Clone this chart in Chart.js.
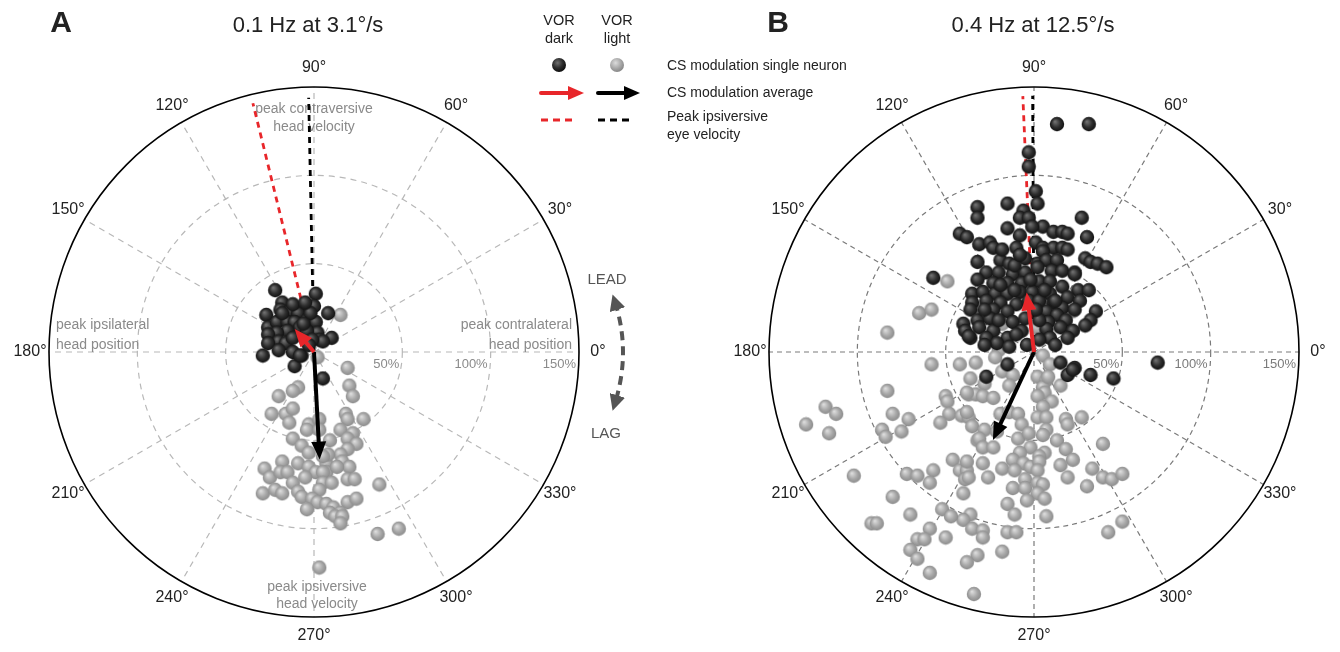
<!DOCTYPE html>
<html>
<head>
<meta charset="utf-8">
<script src="https://cdn.jsdelivr.net/npm/chart.js@4.4.1/dist/chart.umd.min.js"></script>
<style>
  body { margin: 0; background: #fff; font-family: "Liberation Sans", Arial, sans-serif; }
  #wrap { position: relative; width: 1340px; height: 652px; overflow: hidden; }
  canvas { position: absolute; top: 0; }
  .t { position: absolute; white-space: nowrap; color: #222; transform: translate(-50%, -50%); line-height: 1; }
  .l { position: absolute; white-space: nowrap; color: #222; transform: translateY(-50%); line-height: 1; font-size: 14px; }
  .letter { font-weight: bold; font-size: 30px; }
  .title { font-size: 22px; }
  .vor { font-size: 14.5px; }
  .lead { font-size: 15px; color: #555; }
  svg { position: absolute; left: 0; top: 0; }
</style>
</head>
<body>
<div id="wrap">
  <canvas id="chartA" width="670" height="652" style="left:0"></canvas>
  <canvas id="chartB" width="670" height="652" style="left:670px"></canvas>

  <div class="t letter" style="left:61px;top:22px">A</div>
  <div class="t title" style="left:308px;top:25px">0.1 Hz at 3.1°/s</div>
  <div class="t letter" style="left:778px;top:22px">B</div>
  <div class="t title" style="left:1033px;top:25px">0.4 Hz at 12.5°/s</div>

  <div class="t vor" style="left:559px;top:20px">VOR</div>
  <div class="t vor" style="left:559px;top:38px">dark</div>
  <div class="t vor" style="left:617px;top:20px">VOR</div>
  <div class="t vor" style="left:617px;top:38px">light</div>
  <div class="l" style="left:667px;top:65px">CS modulation single neuron</div>
  <div class="l" style="left:667px;top:92px">CS modulation average</div>
  <div class="l" style="left:667px;top:116px">Peak ipsiversive</div>
  <div class="l" style="left:667px;top:134px">eye velocity</div>

  <div class="t lead" style="left:607px;top:278px">LEAD</div>
  <div class="t lead" style="left:606px;top:432px">LAG</div>

  <svg width="1340" height="652">
    <defs>
      <radialGradient id="gDark" cx="0.4" cy="0.35" r="0.65">
        <stop offset="0" stop-color="#707070"/><stop offset="0.55" stop-color="#2e2e2e"/><stop offset="1" stop-color="#0e0e0e"/>
      </radialGradient>
      <radialGradient id="gLight" cx="0.4" cy="0.35" r="0.65">
        <stop offset="0" stop-color="#dcdcdc"/><stop offset="0.6" stop-color="#a8a8a8"/><stop offset="1" stop-color="#888"/>
      </radialGradient>
      <marker id="head" viewBox="0 0 10 10" refX="5" refY="5" markerWidth="4" markerHeight="4" orient="auto-start-reverse">
        <path d="M0,0 L10,5 L0,10 z" fill="#555"/>
      </marker>
    </defs>
    <circle cx="559" cy="65" r="7" fill="url(#gDark)"/>
    <circle cx="617" cy="65" r="7" fill="url(#gLight)"/>
    <line x1="541" y1="93" x2="571" y2="93" stroke="#e8262a" stroke-width="4" stroke-linecap="round"/>
    <path d="M568,86 L584,93 L568,100 z" fill="#e8262a"/>
    <line x1="598" y1="93" x2="627" y2="93" stroke="#000" stroke-width="4" stroke-linecap="round"/>
    <path d="M624,86 L640,93 L624,100 z" fill="#000"/>
    <line x1="541" y1="120" x2="577" y2="120" stroke="#e8262a" stroke-width="3" stroke-dasharray="7 5"/>
    <line x1="598" y1="120" x2="633" y2="120" stroke="#000" stroke-width="3" stroke-dasharray="7 5"/>
    <path d="M615,302 Q631,352 615,403" fill="none" stroke="#555" stroke-width="4" stroke-dasharray="9 6" marker-start="url(#head)" marker-end="url(#head)"/>
  </svg>
</div>

<script>
// ring and angle ticks (percent of head velocity / degrees)
const ringTicks = [50, 100, 150];
const angleTicks = [0, 30, 60, 90, 120, 150, 180, 210, 240, 270, 300, 330];

// single neurons, [x, y] components of CS modulation in % (x = 0° axis, y = 90° axis)
const darkA = [[-22,35],[1,33],[0,26],[8,22],[-18,28],[-19,24],[-14,23],[-8,24],[-27,21],[-9,22],[-4,18],[1,17],[-26,14],[-21,17],[-15,17],[-11,17],[-8,14],[-15,12],[-21,11],[-26,10],[2,11],[3,7],[10,8],[-20,6],[-26,5],[-16,5],[-12,0],[-7,-2],[-29,-2],[-11,-8],[5,-15],[-4,12],[-2,22],[-6,16],[5,6],[-12,8],[-1,7],[-8,-2],[-18,22],[-12,27],[-5,28],[-20,1],[-3,4]];
const lightA = [[15,21],[2,-3],[19,-9],[20,-19],[22,-25],[-9,-20],[-12,-22],[-20,-25],[-24,-35],[-16,-35],[-12,-32],[-14,-40],[-3,-41],[-4,-44],[3,-38],[3,-44],[18,-35],[19,-38],[28,-38],[15,-44],[22,-46],[19,-49],[24,-52],[19,-55],[-12,-49],[-7,-53],[-3,-57],[9,-50],[15,-58],[16,-62],[20,-65],[7,-63],[7,-68],[13,-65],[-28,-66],[-25,-71],[-18,-62],[-19,-68],[-15,-68],[-9,-63],[-3,-65],[1,-68],[-5,-71],[5,-68],[-12,-74],[5,-74],[10,-74],[19,-72],[23,-72],[-29,-80],[-22,-78],[-18,-80],[-9,-79],[-7,-82],[3,-78],[-1,-83],[2,-85],[-4,-89],[7,-86],[11,-88],[19,-85],[24,-83],[9,-91],[15,-91],[12,-93],[16,-93],[15,-97],[37,-75],[36,-103],[48,-100],[3,-122],[8,-58],[5,-59]];
const darkB = [[13,129],[31,129],[-3,113],[-3,105],[1,91],[2,84],[-15,84],[-32,82],[-32,76],[-6,80],[-8,76],[-3,76],[5,71],[-1,71],[27,76],[11,68],[16,68],[19,67],[30,65],[-15,70],[-8,66],[-42,67],[-38,65],[-31,61],[-25,62],[1,62],[-10,59],[5,59],[11,59],[16,59],[-23,59],[5,57],[19,58],[29,53],[32,51],[36,50],[41,48],[-32,51],[-19,52],[-14,50],[-5,53],[2,50],[7,52],[13,52],[-27,45],[-20,45],[-12,44],[-5,45],[2,48],[10,46],[16,46],[23,45],[-57,42],[-32,41],[-23,39],[-15,39],[-7,39],[3,40],[9,40],[16,37],[25,35],[31,35],[-35,33],[-29,34],[-22,33],[-15,33],[-8,34],[-1,34],[9,33],[19,31],[-35,28],[-27,29],[-19,28],[-10,27],[11,28],[16,25],[-36,24],[-23,24],[-15,23],[7,23],[13,21],[35,23],[32,18],[-40,16],[-32,18],[-25,19],[-12,17],[8,17],[18,18],[-39,12],[-31,14],[-23,12],[-7,12],[7,13],[15,14],[22,12],[-36,8],[-27,8],[-15,8],[-10,10],[9,8],[19,8],[-21,5],[-14,3],[12,4],[-4,4],[-15,-7],[15,-6],[23,-9],[19,-13],[32,-13],[45,-15],[-27,-14],[70,-6],[-37,9],[22,-10],[23,44],[-19,38],[-11,35],[-3,29],[3,29],[6,35],[-2,41],[-11,49],[-18,58],[-8,55],[3,18],[-5,19],[-20,18],[1,24],[-28,24],[12,29],[26,29],[23,24],[29,15],[3,7],[-28,4]];
const lightB = [[-49,40],[-65,22],[-58,24],[-29,24],[-18,16],[2,14],[7,31],[22,23],[-20,1],[-22,-3],[5,-2],[9,-7],[-58,-7],[-42,-7],[-33,-6],[-18,-11],[-12,-13],[2,-14],[7,-16],[-36,-15],[-28,-18],[-14,-19],[5,-20],[15,-19],[-83,11],[-83,-22],[-50,-25],[-49,-28],[-37,-24],[-33,-24],[-118,-31],[-112,-35],[-80,-35],[-71,-38],[-48,-35],[-41,-36],[-37,-37],[-53,-40],[-129,-41],[-116,-46],[-86,-44],[-84,-48],[-75,-45],[-35,-42],[-32,-50],[-102,-70],[-72,-69],[-66,-70],[-57,-67],[-59,-74],[-46,-61],[-42,-67],[-38,-67],[-39,-72],[-40,-80],[-80,-82],[8,-14],[-38,-23],[-29,-25],[-23,-26],[6,-23],[2,-25],[10,-28],[-19,-35],[-14,-34],[-9,-35],[-38,-34],[5,-31],[2,-37],[7,-37],[18,-38],[19,-41],[27,-37],[-7,-41],[-28,-44],[-31,-49],[-21,-45],[-9,-49],[-3,-46],[7,-44],[5,-47],[13,-50],[39,-52],[-29,-54],[-23,-54],[-2,-54],[6,-57],[3,-59],[18,-55],[22,-61],[-38,-62],[-8,-57],[-29,-63],[-12,-61],[-6,-63],[-2,-65],[3,-62],[15,-64],[-18,-66],[-11,-67],[2,-67],[-37,-71],[-26,-71],[19,-71],[33,-66],[39,-71],[44,-72],[50,-69],[-5,-72],[2,-74],[5,-75],[30,-76],[-12,-77],[-5,-77],[2,-80],[6,-83],[-4,-84],[-15,-86],[-11,-92],[7,-93],[-36,-92],[-40,-95],[50,-96],[42,-102],[-35,-100],[-29,-101],[-29,-105],[-15,-102],[-10,-102],[-70,-92],[-92,-97],[-89,-97],[-52,-89],[-47,-93],[-59,-100],[-50,-105],[-66,-106],[-62,-106],[-70,-112],[-66,-117],[-32,-115],[-38,-119],[-18,-113],[-59,-125],[-34,-137]];

// averages and eye velocity: [dark, light] as phase (deg) and gain (%)
const avgPhaseA = [130, 273], avgGainA = [17, 61];
const eyePhaseA = [103.8, 91.2], eyeGainA = [145, 144];
const avgPhaseB = [97, 245], avgGainB = [34, 55];
const eyePhaseB = [92.5, 90.3], eyeGainB = [145, 145];

const RED = '#e8262a';

function sphere(hi, base, edge) {
  const c = document.createElement('canvas');
  c.width = c.height = 16;
  const g = c.getContext('2d');
  const grd = g.createRadialGradient(6, 5.5, 0.5, 8, 8, 7.6);
  grd.addColorStop(0, hi);
  grd.addColorStop(0.55, base);
  grd.addColorStop(1, edge);
  g.fillStyle = grd;
  g.beginPath();
  g.arc(8, 8, 7.2, 0, Math.PI * 2);
  g.fill();
  return c;
}
const dotDark = sphere('#707070', '#2e2e2e', '#0e0e0e');
const dotLight = sphere('#dcdcdc', '#a8a8a8', '#888');

function toXY(phase, gain) {
  const a = phase * Math.PI / 180;
  return [gain * Math.cos(a), gain * Math.sin(a)];
}

function arrow(ctx, x0, y0, x1, y1, color) {
  const ang = Math.atan2(y1 - y0, x1 - x0);
  const hl = 18, hw = 7.5;
  const bx = x1 - hl * Math.cos(ang), by = y1 - hl * Math.sin(ang);
  ctx.strokeStyle = color;
  ctx.fillStyle = color;
  ctx.lineWidth = 4;
  ctx.setLineDash([]);
  ctx.beginPath();
  ctx.moveTo(x0, y0);
  ctx.lineTo(bx + 3 * Math.cos(ang), by + 3 * Math.sin(ang));
  ctx.stroke();
  ctx.beginPath();
  ctx.moveTo(x1, y1);
  ctx.lineTo(bx - hw * Math.sin(ang), by + hw * Math.cos(ang));
  ctx.lineTo(bx + hw * Math.sin(ang), by - hw * Math.cos(ang));
  ctx.closePath();
  ctx.fill();
}

const polarGrid = {
  id: 'polarGrid',
  beforeDatasetsDraw(chart, args, o) {
    const { ctx, scales: { x, y } } = chart;
    const cx = x.getPixelForValue(0), cy = y.getPixelForValue(0);
    const R = v => x.getPixelForValue(v) - cx;
    const outer = R(ringTicks[ringTicks.length - 1]);
    ctx.save();
    ctx.strokeStyle = o.gridColor;
    ctx.lineWidth = 1.2;
    ctx.setLineDash(o.dash);
    ringTicks.slice(0, -1).forEach(v => {
      ctx.beginPath();
      ctx.arc(cx, cy, R(v), 0, Math.PI * 2);
      ctx.stroke();
    });
    angleTicks.forEach(a => {
      const r = a * Math.PI / 180;
      ctx.beginPath();
      ctx.moveTo(cx, cy);
      ctx.lineTo(cx + outer * Math.cos(r), cy - outer * Math.sin(r));
      ctx.stroke();
    });
    ctx.setLineDash([]);
    ctx.strokeStyle = '#000';
    ctx.lineWidth = 1.6;
    ctx.beginPath();
    ctx.arc(cx, cy, outer, 0, Math.PI * 2);
    ctx.stroke();

    // angle labels
    ctx.fillStyle = '#222';
    ctx.font = '16px "Liberation Sans", Arial, sans-serif';
    ctx.textAlign = 'center';
    ctx.textBaseline = 'middle';
    angleTicks.forEach(a => {
      const r = a * Math.PI / 180;
      ctx.fillText(a + '°', cx + (outer + 19) * Math.cos(r), cy - (outer + 19) * Math.sin(r));
    });
    // ring labels
    ctx.fillStyle = o.ringLabelColor;
    ctx.font = '13px "Liberation Sans", Arial, sans-serif';
    ctx.textAlign = 'right';
    ringTicks.forEach(v => ctx.fillText(v + '%', cx + R(v) - 3, cy + 12));

    // notes
    ctx.fillStyle = '#8a8a8a';
    ctx.font = '14px "Liberation Sans", Arial, sans-serif';
    (o.notes || []).forEach(n => {
      ctx.textAlign = n.align;
      ctx.fillText(n.text, cx + n.dx, cy + n.dy);
    });

    // peak eye velocity
    o.eyePhase.forEach((p, i) => {
      const [vx, vy] = toXY(p, o.eyeGain[i]);
      ctx.strokeStyle = i === 0 ? RED : '#000';
      ctx.lineWidth = 2.8;
      ctx.setLineDash([6, 5]);
      ctx.beginPath();
      ctx.moveTo(cx, cy);
      ctx.lineTo(x.getPixelForValue(vx), y.getPixelForValue(vy));
      ctx.stroke();
    });
    ctx.restore();
  },
  afterDatasetsDraw(chart, args, o) {
    const { ctx, scales: { x, y } } = chart;
    const cx = x.getPixelForValue(0), cy = y.getPixelForValue(0);
    ctx.save();
    [1, 0].forEach(i => {
      const [vx, vy] = toXY(o.avgPhase[i], o.avgGain[i]);
      arrow(ctx, cx, cy, x.getPixelForValue(vx), y.getPixelForValue(vy), i === 0 ? RED : '#000');
    });
    ctx.restore();
  }
};

function makeChart(id, dark, light, padLeft, padRight, grid) {
  const pts = arr => arr.map(p => ({ x: p[0], y: p[1] }));
  return new Chart(document.getElementById(id), {
    type: 'scatter',
    data: {
      datasets: [
        { label: 'VOR dark', data: pts(dark), pointStyle: dotDark, pointRadius: 8, clip: false },
        { label: 'VOR light', data: pts(light), pointStyle: dotLight, pointRadius: 8, clip: false }
      ]
    },
    options: {
      responsive: false,
      animation: false,
      devicePixelRatio: 1,
      layout: { padding: { left: padLeft, right: padRight, top: 87, bottom: 35 } },
      scales: {
        x: { type: 'linear', min: -150, max: 150, display: false },
        y: { type: 'linear', min: -150, max: 150, display: false }
      },
      plugins: {
        legend: { display: false },
        tooltip: { enabled: false },
        polarGrid: grid
      }
    },
    plugins: [polarGrid]
  });
}

makeChart('chartA', darkA, lightA, 49, 91, {
  gridColor: '#b8b8b8', dash: [6, 5], ringLabelColor: '#8a8a8a',
  avgPhase: avgPhaseA, avgGain: avgGainA, eyePhase: eyePhaseA, eyeGain: eyeGainA,
  notes: [
    { text: 'peak contraversive', dx: 0, dy: -243, align: 'center' },
    { text: 'head velocity', dx: 0, dy: -225, align: 'center' },
    { text: 'peak ipsilateral', dx: -258, dy: -27, align: 'left' },
    { text: 'head position', dx: -258, dy: -7, align: 'left' },
    { text: 'peak contralateral', dx: 258, dy: -27, align: 'right' },
    { text: 'head position', dx: 258, dy: -7, align: 'right' },
    { text: 'peak ipsiversive', dx: 3, dy: 235, align: 'center' },
    { text: 'head velocity', dx: 3, dy: 252, align: 'center' }
  ]
});

makeChart('chartB', darkB, lightB, 99, 41, {
  gridColor: '#7a7a7a', dash: [5, 4], ringLabelColor: '#7a7a7a',
  avgPhase: avgPhaseB, avgGain: avgGainB, eyePhase: eyePhaseB, eyeGain: eyeGainB,
  notes: []
});
</script>
</body>
</html>
